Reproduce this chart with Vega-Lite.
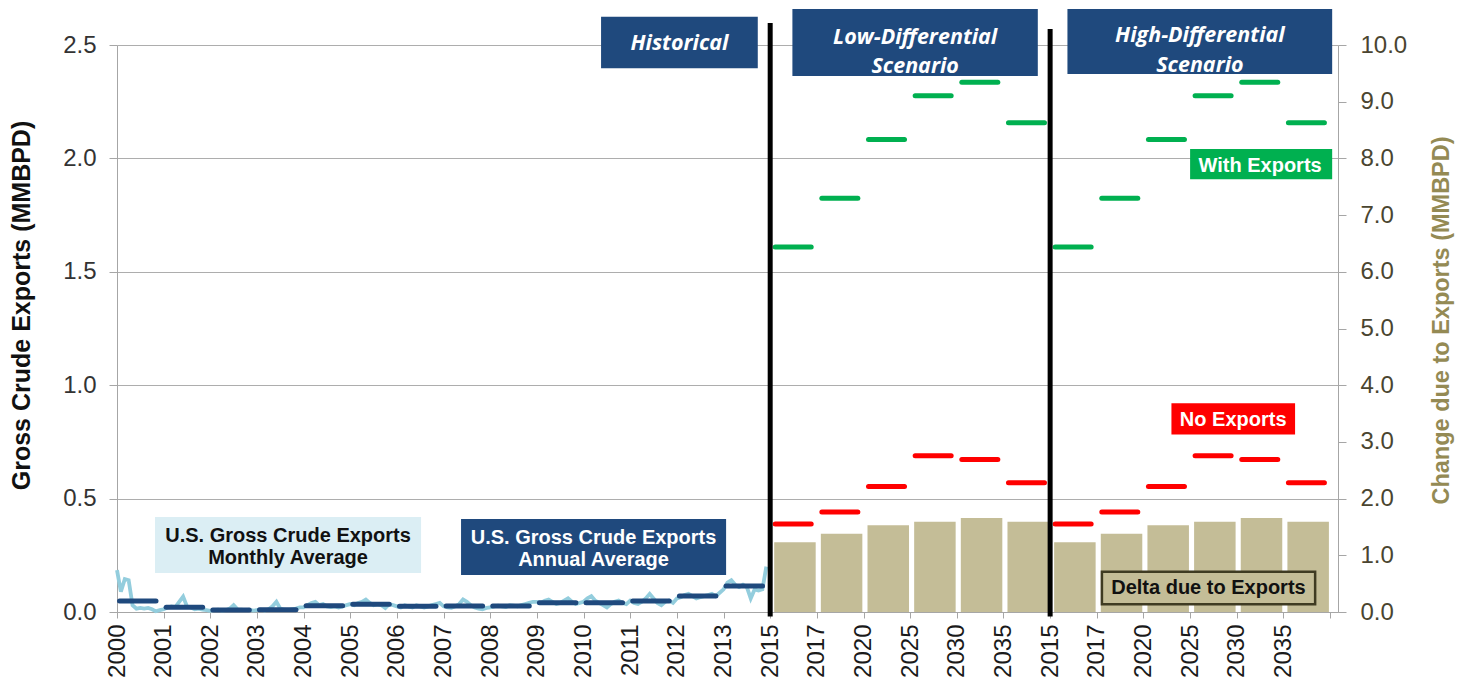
{
  "$schema": "https://vega.github.io/schema/vega-lite/v6.json",
  "width": 1221,
  "height": 567,
  "autosize": "none",
  "padding": {"left": 117, "top": 45, "right": 128, "bottom": 75},
  "background": "white",
  "config": {"view": {"stroke": null}, "font": "Liberation Sans"},
  "datasets": {
    "monthly": [
      {"t":0,"v":0.185},{"t":0.083,"v":0.09},{"t":0.167,"v":0.145},{"t":0.25,"v":0.14},{"t":0.333,"v":0.03},{"t":0.417,"v":0.015},{"t":0.5,"v":0.018},{"t":0.583,"v":0.015},{"t":0.667,"v":0.018},{"t":0.75,"v":0.012},{"t":0.833,"v":0.003},{"t":0.917,"v":0.008},
      {"t":1,"v":0.012},{"t":1.083,"v":0.02},{"t":1.167,"v":0.025},{"t":1.25,"v":0.022},{"t":1.333,"v":0.045},{"t":1.417,"v":0.068},{"t":1.5,"v":0.025},{"t":1.583,"v":0.02},{"t":1.667,"v":0.012},{"t":1.75,"v":0.015},{"t":1.833,"v":0.01},{"t":1.917,"v":0.008},
      {"t":2,"v":0.005},{"t":2.083,"v":0.008},{"t":2.167,"v":0.01},{"t":2.25,"v":0.006},{"t":2.333,"v":0.008},{"t":2.417,"v":0.015},{"t":2.5,"v":0.03},{"t":2.583,"v":0.012},{"t":2.667,"v":0.01},{"t":2.75,"v":0.008},{"t":2.833,"v":0.01},{"t":2.917,"v":0.006},
      {"t":3,"v":0.008},{"t":3.083,"v":0.01},{"t":3.167,"v":0.006},{"t":3.25,"v":0.012},{"t":3.333,"v":0.025},{"t":3.417,"v":0.045},{"t":3.5,"v":0.015},{"t":3.583,"v":0.01},{"t":3.667,"v":0.008},{"t":3.75,"v":0.012},{"t":3.833,"v":0.015},{"t":3.917,"v":0.02},
      {"t":4,"v":0.02},{"t":4.083,"v":0.03},{"t":4.167,"v":0.04},{"t":4.25,"v":0.045},{"t":4.333,"v":0.03},{"t":4.417,"v":0.035},{"t":4.5,"v":0.025},{"t":4.583,"v":0.022},{"t":4.667,"v":0.025},{"t":4.75,"v":0.02},{"t":4.833,"v":0.025},{"t":4.917,"v":0.03},
      {"t":5,"v":0.035},{"t":5.083,"v":0.03},{"t":5.167,"v":0.04},{"t":5.25,"v":0.045},{"t":5.333,"v":0.055},{"t":5.417,"v":0.04},{"t":5.5,"v":0.03},{"t":5.583,"v":0.035},{"t":5.667,"v":0.03},{"t":5.75,"v":0.018},{"t":5.833,"v":0.035},{"t":5.917,"v":0.03},
      {"t":6,"v":0.025},{"t":6.083,"v":0.02},{"t":6.167,"v":0.03},{"t":6.25,"v":0.025},{"t":6.333,"v":0.02},{"t":6.417,"v":0.03},{"t":6.5,"v":0.025},{"t":6.583,"v":0.02},{"t":6.667,"v":0.025},{"t":6.75,"v":0.03},{"t":6.833,"v":0.035},{"t":6.917,"v":0.04},
      {"t":7,"v":0.025},{"t":7.083,"v":0.02},{"t":7.167,"v":0.018},{"t":7.25,"v":0.025},{"t":7.333,"v":0.035},{"t":7.417,"v":0.055},{"t":7.5,"v":0.045},{"t":7.583,"v":0.03},{"t":7.667,"v":0.02},{"t":7.75,"v":0.015},{"t":7.833,"v":0.012},{"t":7.917,"v":0.018},
      {"t":8,"v":0.02},{"t":8.083,"v":0.025},{"t":8.167,"v":0.028},{"t":8.25,"v":0.025},{"t":8.333,"v":0.022},{"t":8.417,"v":0.03},{"t":8.5,"v":0.028},{"t":8.583,"v":0.025},{"t":8.667,"v":0.03},{"t":8.75,"v":0.035},{"t":8.833,"v":0.04},{"t":8.917,"v":0.045},
      {"t":9,"v":0.045},{"t":9.083,"v":0.04},{"t":9.167,"v":0.05},{"t":9.25,"v":0.055},{"t":9.333,"v":0.045},{"t":9.417,"v":0.035},{"t":9.5,"v":0.04},{"t":9.583,"v":0.05},{"t":9.667,"v":0.06},{"t":9.75,"v":0.045},{"t":9.833,"v":0.035},{"t":9.917,"v":0.04},
      {"t":10,"v":0.045},{"t":10.083,"v":0.06},{"t":10.167,"v":0.07},{"t":10.25,"v":0.05},{"t":10.333,"v":0.04},{"t":10.417,"v":0.03},{"t":10.5,"v":0.02},{"t":10.583,"v":0.035},{"t":10.667,"v":0.045},{"t":10.75,"v":0.05},{"t":10.833,"v":0.04},{"t":10.917,"v":0.035},
      {"t":11,"v":0.05},{"t":11.083,"v":0.04},{"t":11.167,"v":0.035},{"t":11.25,"v":0.045},{"t":11.333,"v":0.06},{"t":11.417,"v":0.08},{"t":11.5,"v":0.06},{"t":11.583,"v":0.04},{"t":11.667,"v":0.03},{"t":11.75,"v":0.045},{"t":11.833,"v":0.05},{"t":11.917,"v":0.04},
      {"t":12,"v":0.06},{"t":12.083,"v":0.065},{"t":12.167,"v":0.075},{"t":12.25,"v":0.08},{"t":12.333,"v":0.07},{"t":12.417,"v":0.06},{"t":12.5,"v":0.065},{"t":12.583,"v":0.07},{"t":12.667,"v":0.075},{"t":12.75,"v":0.08},{"t":12.833,"v":0.07},{"t":12.917,"v":0.085},
      {"t":13,"v":0.1},{"t":13.083,"v":0.13},{"t":13.167,"v":0.14},{"t":13.25,"v":0.12},{"t":13.333,"v":0.11},{"t":13.417,"v":0.12},{"t":13.5,"v":0.11},{"t":13.583,"v":0.06},{"t":13.667,"v":0.1},{"t":13.75,"v":0.095},{"t":13.833,"v":0.1},{"t":13.917,"v":0.2}
    ],
    "annual": [
      {"year":2000,"slot":0,"v":0.048},{"year":2001,"slot":1,"v":0.021},{"year":2002,"slot":2,"v":0.009},{"year":2003,"slot":3,"v":0.010},
      {"year":2004,"slot":4,"v":0.028},{"year":2005,"slot":5,"v":0.034},{"year":2006,"slot":6,"v":0.025},{"year":2007,"slot":7,"v":0.026},
      {"year":2008,"slot":8,"v":0.026},{"year":2009,"slot":9,"v":0.041},{"year":2010,"slot":10,"v":0.041},{"year":2011,"slot":11,"v":0.048},
      {"year":2012,"slot":12,"v":0.071},{"year":2013,"slot":13,"v":0.115}
    ],
    "scenarios": [
      {"scenario":"Low-Differential","year":2015,"slot":14,"withExports":1.609,"noExports":0.388,"delta":1.23},
      {"scenario":"Low-Differential","year":2017,"slot":15,"withExports":1.824,"noExports":0.441,"delta":1.38},
      {"scenario":"Low-Differential","year":2020,"slot":16,"withExports":2.083,"noExports":0.553,"delta":1.53},
      {"scenario":"Low-Differential","year":2025,"slot":17,"withExports":2.276,"noExports":0.689,"delta":1.59},
      {"scenario":"Low-Differential","year":2030,"slot":18,"withExports":2.336,"noExports":0.672,"delta":1.66},
      {"scenario":"Low-Differential","year":2035,"slot":19,"withExports":2.157,"noExports":0.570,"delta":1.59},
      {"scenario":"High-Differential","year":2015,"slot":20,"withExports":1.609,"noExports":0.388,"delta":1.23},
      {"scenario":"High-Differential","year":2017,"slot":21,"withExports":1.824,"noExports":0.441,"delta":1.38},
      {"scenario":"High-Differential","year":2020,"slot":22,"withExports":2.083,"noExports":0.553,"delta":1.53},
      {"scenario":"High-Differential","year":2025,"slot":23,"withExports":2.276,"noExports":0.689,"delta":1.59},
      {"scenario":"High-Differential","year":2030,"slot":24,"withExports":2.336,"noExports":0.672,"delta":1.66},
      {"scenario":"High-Differential","year":2035,"slot":25,"withExports":2.157,"noExports":0.570,"delta":1.59}
    ]
  },
  "layer": [
    {
      "data": {"name": "scenarios"},
      "mark": {"type": "rect", "color": "#C4BD97", "xOffset": 4, "x2Offset": 45.5},
      "encoding": {
        "x": {"field": "slot", "type": "quantitative", "scale": {"domain": [0, 26.17], "nice": false, "zero": false},
          "axis": {"orient": "bottom", "values": [0,1,2,3,4,5,6,7,8,9,10,11,12,13,14,15,16,17,18,19,20,21,22,23,24,25,26],
            "labelExpr": "['2000','2001','2002','2003','2004','2005','2006','2007','2008','2009','2010','2011','2012','2013','2015','2017','2020','2025','2030','2035','2015','2017','2020','2025','2030','2035',''][datum.value]",
            "labelAngle": 270, "labelFontSize": 24, "labelColor": "#1A1A1A", "labelPadding": 6,
            "labelOverlap": false, "labelFlush": false, "labelBound": false,
            "tickSize": 6, "tickColor": "#A6A6A6", "domainColor": "#A6A6A6", "grid": false, "title": null}},
        "x2": {"field": "slot"},
        "y": {"field": "delta", "type": "quantitative", "scale": {"domain": [0, 10], "nice": false},
          "axis": {"orient": "right", "values": [0,1,2,3,4,5,6,7,8,9,10], "format": ".1f", "grid": false,
            "tickSize": 8, "labelPadding": 14, "labelFontSize": 24, "labelColor": "#4A4530",
            "domainColor": "#A6A6A6", "tickColor": "#A6A6A6",
            "title": "Change due to Exports (MMBPD)", "titleFontSize": 23.5, "titleFontWeight": "bold", "titleColor": "#948A54",
            "titleAngle": 270, "titleX": 103, "titleY": 275, "titleAlign": "center", "titleBaseline": "middle"}},
        "y2": {"datum": 0}
      }
    },
    {
      "layer": [
        {
          "data": {"name": "monthly"},
          "mark": {"type": "line", "color": "#93CDDD", "strokeWidth": 3.8},
          "encoding": {
            "x": {"field": "t", "type": "quantitative", "scale": {"domain": [0, 26.17], "nice": false, "zero": false}},
            "y": {"field": "v", "type": "quantitative", "scale": {"domain": [0, 2.5], "nice": false},
              "axis": {"orient": "left", "values": [0, 0.5, 1, 1.5, 2, 2.5], "format": ".1f", "grid": true, "gridColor": "#ADADAD",
                "tickSize": 8, "labelPadding": 13, "labelFontSize": 24, "labelColor": "#333333",
                "domainColor": "#A6A6A6", "tickColor": "#A6A6A6",
                "title": "Gross Crude Exports (MMBPD)", "titleFontSize": 25, "titleFontWeight": "bold", "titleColor": "#111111",
                "titleAngle": 270, "titleX": -96, "titleY": 260, "titleAlign": "center", "titleBaseline": "middle"}}
          }
        },
        {
          "data": {"name": "annual"},
          "mark": {"type": "rule", "color": "#1F497D", "strokeWidth": 5, "strokeCap": "round", "xOffset": 2.5, "x2Offset": 39},
          "encoding": {
            "x": {"field": "slot", "type": "quantitative", "scale": {"domain": [0, 26.17], "nice": false, "zero": false}},
            "x2": {"field": "slot"},
            "y": {"field": "v", "type": "quantitative", "scale": {"domain": [0, 2.5], "nice": false}}
          }
        },
        {
          "data": {"name": "scenarios"},
          "mark": {"type": "rule", "color": "#00B050", "strokeWidth": 5, "strokeCap": "round", "xOffset": 5, "x2Offset": 41},
          "encoding": {
            "x": {"field": "slot", "type": "quantitative", "scale": {"domain": [0, 26.17], "nice": false, "zero": false}},
            "x2": {"field": "slot"},
            "y": {"field": "withExports", "type": "quantitative", "scale": {"domain": [0, 2.5], "nice": false}}
          }
        },
        {
          "data": {"name": "scenarios"},
          "mark": {"type": "rule", "color": "#FF0000", "strokeWidth": 5, "strokeCap": "round", "xOffset": 5, "x2Offset": 41},
          "encoding": {
            "x": {"field": "slot", "type": "quantitative", "scale": {"domain": [0, 26.17], "nice": false, "zero": false}},
            "x2": {"field": "slot"},
            "y": {"field": "noExports", "type": "quantitative", "scale": {"domain": [0, 2.5], "nice": false}}
          }
        },
        {
          "data": {"values": [{"slot": 14, "top": 2.597}, {"slot": 20, "top": 2.57}]},
          "mark": {"type": "rule", "color": "#000000", "strokeWidth": 5},
          "encoding": {
            "x": {"field": "slot", "type": "quantitative", "scale": {"domain": [0, 26.17], "nice": false, "zero": false}},
            "y": {"field": "top", "type": "quantitative", "scale": {"domain": [0, 2.5], "nice": false}},
            "y2": {"datum": -0.02}
          }
        },
        {
          "data": {"values": [
            {"label": "Historical", "from": 10.375, "to": 13.734, "low": 2.397, "high": 2.625},
            {"label": "Low-Differential Scenario", "from": 14.476, "to": 19.736, "low": 2.363, "high": 2.659},
            {"label": "High-Differential Scenario", "from": 20.371, "to": 26.045, "low": 2.372, "high": 2.659},
            {"label": "Annual Average", "from": 7.374, "to": 13.055, "low": 0.163, "high": 0.41}
          ]},
          "mark": {"type": "rect", "fill": "#1F497D"},
          "encoding": {
            "x": {"field": "from", "type": "quantitative", "scale": {"domain": [0, 26.17], "nice": false, "zero": false}},
            "x2": {"field": "to"},
            "y": {"field": "low", "type": "quantitative", "scale": {"domain": [0, 2.5], "nice": false}},
            "y2": {"field": "high"}
          }
        },
        {
          "data": {"values": [{"label": "Monthly Average", "from": 0.815, "to": 6.517, "low": 0.172, "high": 0.419}]},
          "mark": {"type": "rect", "fill": "#DBEEF4"},
          "encoding": {
            "x": {"field": "from", "type": "quantitative", "scale": {"domain": [0, 26.17], "nice": false, "zero": false}},
            "x2": {"field": "to"},
            "y": {"field": "low", "type": "quantitative", "scale": {"domain": [0, 2.5], "nice": false}},
            "y2": {"field": "high"}
          }
        },
        {
          "data": {"values": [{"label": "With Exports", "from": 23.0, "to": 26.045, "low": 1.908, "high": 2.041}]},
          "mark": {"type": "rect", "fill": "#00B050"},
          "encoding": {
            "x": {"field": "from", "type": "quantitative", "scale": {"domain": [0, 26.17], "nice": false, "zero": false}},
            "x2": {"field": "to"},
            "y": {"field": "low", "type": "quantitative", "scale": {"domain": [0, 2.5], "nice": false}},
            "y2": {"field": "high"}
          }
        },
        {
          "data": {"values": [{"label": "No Exports", "from": 22.6, "to": 25.25, "low": 0.783, "high": 0.92}]},
          "mark": {"type": "rect", "fill": "#FF0000"},
          "encoding": {
            "x": {"field": "from", "type": "quantitative", "scale": {"domain": [0, 26.17], "nice": false, "zero": false}},
            "x2": {"field": "to"},
            "y": {"field": "low", "type": "quantitative", "scale": {"domain": [0, 2.5], "nice": false}},
            "y2": {"field": "high"}
          }
        },
        {
          "data": {"values": [{"label": "Delta due to Exports", "from": 21.11, "to": 25.68, "low": 0.034, "high": 0.178}]},
          "mark": {"type": "rect", "fill": "#C4BD97", "stroke": "#3F3B22", "strokeWidth": 2.5},
          "encoding": {
            "x": {"field": "from", "type": "quantitative", "scale": {"domain": [0, 26.17], "nice": false, "zero": false}},
            "x2": {"field": "to"},
            "y": {"field": "low", "type": "quantitative", "scale": {"domain": [0, 2.5], "nice": false}},
            "y2": {"field": "high"}
          }
        },
        {
          "data": {"values": [
            {"text": "Historical", "at": 12.056, "level": 2.478},
            {"text": "Low-Differential", "at": 17.107, "level": 2.503},
            {"text": "Scenario", "at": 17.107, "level": 2.375},
            {"text": "High-Differential", "at": 23.21, "level": 2.515},
            {"text": "Scenario", "at": 23.21, "level": 2.382}
          ]},
          "mark": {"type": "text", "font": "Open Sans", "fontWeight": "bold", "fontStyle": "italic", "fontSize": 21.5, "color": "white", "align": "center", "baseline": "alphabetic"},
          "encoding": {
            "x": {"field": "at", "type": "quantitative", "scale": {"domain": [0, 26.17], "nice": false, "zero": false}},
            "y": {"field": "level", "type": "quantitative", "scale": {"domain": [0, 2.5], "nice": false}},
            "text": {"field": "text"}
          }
        },
        {
          "data": {"values": [
            {"text": "With Exports", "at": 24.5, "level": 1.941},
            {"text": "No Exports", "at": 23.923, "level": 0.82},
            {"text": "U.S. Gross Crude Exports", "at": 10.214, "level": 0.3},
            {"text": "Annual  Average", "at": 10.214, "level": 0.203}
          ]},
          "mark": {"type": "text", "fontWeight": "bold", "fontSize": 20, "color": "white", "align": "center", "baseline": "alphabetic"},
          "encoding": {
            "x": {"field": "at", "type": "quantitative", "scale": {"domain": [0, 26.17], "nice": false, "zero": false}},
            "y": {"field": "level", "type": "quantitative", "scale": {"domain": [0, 2.5], "nice": false}},
            "text": {"field": "text"}
          }
        },
        {
          "data": {"values": [
            {"text": "U.S. Gross Crude Exports", "at": 3.666, "level": 0.309},
            {"text": "Monthly  Average", "at": 3.666, "level": 0.212},
            {"text": "Delta due  to Exports", "at": 23.393, "level": 0.078}
          ]},
          "mark": {"type": "text", "fontWeight": "bold", "fontSize": 20, "color": "#111111", "align": "center", "baseline": "alphabetic"},
          "encoding": {
            "x": {"field": "at", "type": "quantitative", "scale": {"domain": [0, 26.17], "nice": false, "zero": false}},
            "y": {"field": "level", "type": "quantitative", "scale": {"domain": [0, 2.5], "nice": false}},
            "text": {"field": "text"}
          }
        }
      ]
    }
  ],
  "resolve": {"scale": {"y": "independent"}}
}
